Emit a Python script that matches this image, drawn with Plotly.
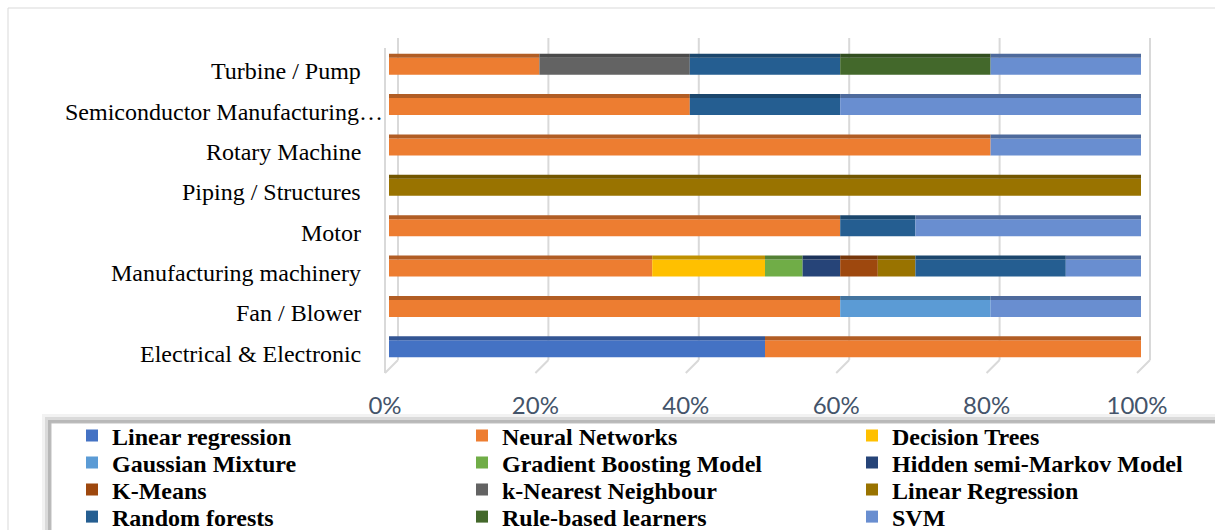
import plotly.graph_objects as go
import numpy as np

categories = ["Electrical & Electronic", "Fan / Blower", "Manufacturing machinery", "Motor",
              "Piping / Structures", "Rotary Machine", "Semiconductor Manufacturing…", "Turbine / Pump"]

# percentage share of each method per equipment category (same order as categories)
linear_regression = [50, 0, 0, 0, 0, 0, 0, 0]
neural_networks   = [50, 60, 35, 60, 0, 80, 40, 20]
decision_trees    = [0, 0, 15, 0, 0, 0, 0, 0]
gaussian_mixture  = [0, 20, 0, 0, 0, 0, 0, 0]
gradient_boosting = [0, 0, 5, 0, 0, 0, 0, 0]
hidden_semi_markov = [0, 0, 5, 0, 0, 0, 0, 0]
k_means           = [0, 0, 5, 0, 0, 0, 0, 0]
knn               = [0, 0, 0, 0, 0, 0, 0, 20]
linear_regression_2 = [0, 0, 5, 0, 100, 0, 0, 0]
random_forests    = [0, 0, 20, 10, 0, 0, 20, 20]
rule_based        = [0, 0, 0, 0, 0, 0, 0, 20]
svm               = [0, 20, 10, 30, 0, 20, 40, 20]

series_names = ["Linear regression", "Neural Networks", "Decision Trees", "Gaussian Mixture",
                "Gradient Boosting Model", "Hidden semi-Markov Model", "K-Means", "k-Nearest Neighbour",
                "Linear Regression", "Random forests", "Rule-based learners", "SVM"]
series_values = [linear_regression, neural_networks, decision_trees, gaussian_mixture,
                 gradient_boosting, hidden_semi_markov, k_means, knn, linear_regression_2,
                 random_forests, rule_based, svm]
colors = ["#4472C4", "#ED7D31", "#FFC000", "#5B9BD5", "#70AD47", "#264478",
          "#9E480E", "#636363", "#997300", "#255E91", "#43682B", "#698ED0"]
tick_vals = [0, 20, 40, 60, 80, 100]
tick_text = ["0%", "20%", "40%", "60%", "80%", "100%"]

W, H = 1215, 530
X0, X1 = 389, 1141          # pixel span of the value axis
T, PH = 46, 323             # plot top and height
BOT = T + PH
GRID_DX = 9                 # back-wall offset of the gridlines (px)


def darker(hex_color, f=0.75):
    h = hex_color.lstrip("#")
    r, g, b = (int(h[i:i + 2], 16) for i in (0, 2, 4))
    return "rgb(%d,%d,%d)" % (r * f, g * f, b * f)


def py(p):  # pixel y -> paper y
    return (BOT - p) / PH


def vx(v, dpx=0):  # value-axis value (+ pixel offset) -> paper x
    return (X0 + v / 100.0 * (X1 - X0) + dpx) / W


fig = go.Figure()
cum = np.zeros(len(categories))
legend_ids = ["legend", "legend2", "legend3", "legend4"]
for i, (name, vals, col) in enumerate(zip(series_names, series_values, colors)):
    vals = np.array(vals, dtype=float)
    lg = legend_ids[i // 3]
    fig.add_trace(go.Bar(
        y=categories, x=vals, base=cum.copy(), orientation="h", name=name, legend=lg,
        marker=dict(color=col, line=dict(width=0)), width=0.42, offset=-0.21,
        hoverinfo="x+name"))
    fig.add_trace(go.Bar(
        y=categories, x=vals, base=cum.copy(), orientation="h", name=name, legend=lg,
        marker=dict(color=darker(col), line=dict(width=0)), width=0.1, offset=0.21,
        showlegend=False, hoverinfo="skip"))
    cum = cum + vals

shapes = []
# outer chart border
shapes.append(dict(type="rect", xref="paper", yref="paper", x0=8 / W, x1=1.05, y0=py(H + 20), y1=py(8),
                   line=dict(color="#D9D9D9", width=1), fillcolor="rgba(0,0,0,0)", layer="below"))
# 3D back-wall gridlines and floor diagonals
for v in tick_vals:
    shapes.append(dict(type="line", xref="paper", x0=vx(v, GRID_DX), x1=vx(v, GRID_DX),
                       yref="paper", y0=py(360), y1=py(38),
                       line=dict(color="#D9D9D9", width=2), layer="below"))
    shapes.append(dict(type="line", xref="paper", x0=vx(v, -4), x1=vx(v, GRID_DX),
                       yref="paper", y0=py(373), y1=py(360),
                       line=dict(color="#D9D9D9", width=2), layer="below"))
# front wall edge
shapes.append(dict(type="line", xref="paper", x0=vx(0, -4), x1=vx(0, -4),
                   yref="paper", y0=py(373), y1=py(48),
                   line=dict(color="#D9D9D9", width=2), layer="below"))
# legend box with soft shadow
for off, c in [(9, "#F2F2F2"), (6, "#DADADA"), (3, "#B8B8B8")]:
    shapes.append(dict(type="rect", xref="paper", yref="paper", x0=(51 - off) / W, x1=1.1,
                       y0=py(H + 30), y1=py(423 - off), line=dict(width=0), fillcolor=c, layer="above"))
shapes.append(dict(type="rect", xref="paper", yref="paper", x0=51 / W, x1=1.1,
                   y0=py(H + 30), y1=py(423), line=dict(color="#BFBFBF", width=1),
                   fillcolor="white", layer="above"))

annotations = []
label_right = {"Semiconductor Manufacturing…": 385}
for cat in categories:
    annotations.append(dict(x=0, xref="x", y=cat, yref="y", text=cat, showarrow=False,
                            xanchor="right", yanchor="middle",
                            xshift=label_right.get(cat, 363) - X0, yshift=-5,
                            font=dict(family="Liberation Serif, Times New Roman, serif", size=24,
                                      color="black")))

legend_common = dict(orientation="h", xref="container", yref="container",
                     xanchor="left", yanchor="middle", entrywidth=345, entrywidthmode="pixels",
                     font=dict(family="Liberation Serif, Times New Roman, serif", size=24,
                               color="black", weight="bold"),
                     bgcolor="rgba(0,0,0,0)", borderwidth=0, itemwidth=30)
row_y = [436, 463, 490, 517]
legends = {}
for lid, ry in zip(legend_ids, row_y):
    legends[lid] = dict(legend_common, x=72 / W, y=(H - ry) / H)

fig.update_layout(
    width=W, height=H,
    barmode="overlay",
    paper_bgcolor="white", plot_bgcolor="rgba(0,0,0,0)",
    margin=dict(l=0, r=0, t=T, b=H - BOT, autoexpand=False),
    xaxis=dict(domain=[X0 / W, X1 / W], range=[0, 100], tickvals=tick_vals, ticktext=tick_text,
               automargin=False, showgrid=False, zeroline=False, showline=False,
               tickfont=dict(family="Lato, Open Sans, sans-serif", size=24, color="#44546A"),
               ticklabelstandoff=20, ticklabelshift=-4),
    yaxis=dict(categoryorder="array", categoryarray=categories, range=[-0.5, 7.5], automargin=False,
               showgrid=False, zeroline=False, showline=False, showticklabels=False),
    shapes=shapes,
    annotations=annotations,
    **legends,
)

fig.write_html("out.html")
